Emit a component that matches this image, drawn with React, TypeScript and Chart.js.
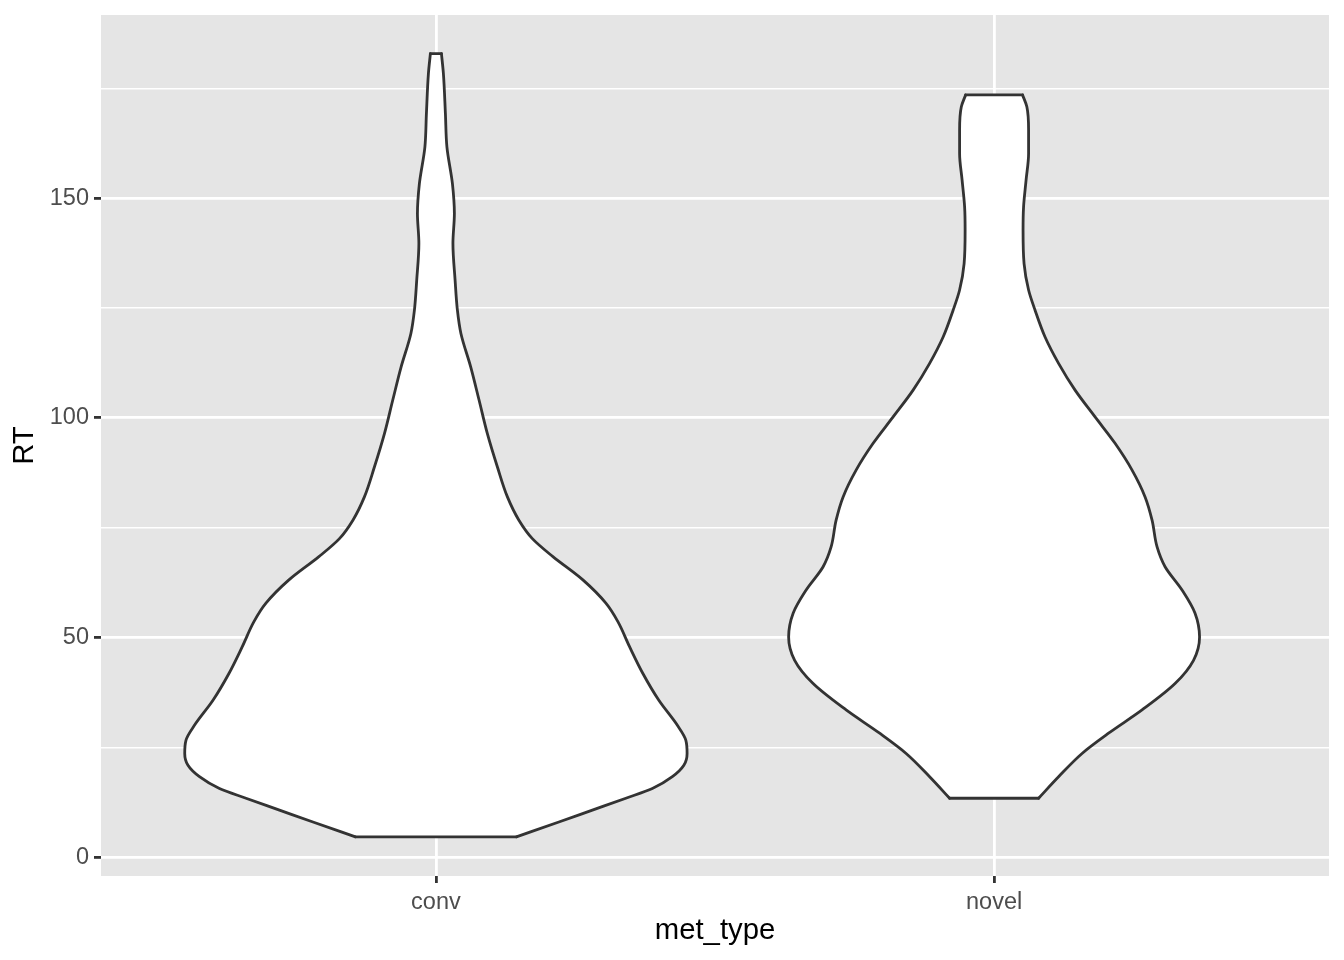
import React, { useEffect, useRef } from "react";
import { Chart, registerables } from "chart.js";

Chart.register(...registerables);

// Categories on the x axis
const categories = ["conv", "novel"];

// Violin outlines: RT value and half-width (in x-axis category units)
const convRT = [4.6, 8.0, 10.7, 13.4, 15.6, 18.3, 20.9, 23.6, 26.6, 30.0, 35.7, 41.8, 47.9, 53.6, 57.8, 63.1, 68.4, 72.5, 76.7, 82.0, 88.8, 96.4, 104.0, 111.6, 119.2, 124.5, 131.3, 139.7, 146.5, 153.3, 161.7, 169.3, 178.4, 182.9];
const convHalfWidth = [0.1442, 0.2203, 0.2803, 0.3403, 0.3878, 0.4236, 0.4442, 0.45, 0.4478, 0.4326, 0.3994, 0.3708, 0.3469, 0.326, 0.3045, 0.2633, 0.2096, 0.1728, 0.1487, 0.1281, 0.1102, 0.0922, 0.0774, 0.0623, 0.0448, 0.0385, 0.0344, 0.0305, 0.0331, 0.0296, 0.0197, 0.017, 0.0134, 0.0099];

const novelRT = [13.4, 18.3, 23.6, 28.2, 33.5, 39.5, 44.8, 50.1, 55.5, 60.8, 66.1, 70.6, 76.7, 82.0, 88.1, 94.2, 100.2, 106.3, 112.4, 118.4, 124.5, 129.1, 135.1, 142.7, 148.0, 154.1, 160.2, 165.5, 170.8, 173.5];
const novelHalfWidth = [0.0797, 0.1155, 0.1576, 0.2051, 0.2651, 0.3242, 0.3573, 0.3681, 0.36, 0.3367, 0.3063, 0.292, 0.283, 0.2705, 0.2472, 0.2167, 0.1809, 0.1451, 0.1155, 0.0913, 0.0734, 0.0618, 0.0537, 0.0519, 0.0528, 0.0573, 0.0618, 0.0618, 0.0587, 0.051];

// Axis ticks
const yMajorTicks = [0, 50, 100, 150];
const yMinorTicks = [25, 75, 125, 175];
const xTickPositions = [1, 2];

const FONT = "'Liberation Sans', Arial, Helvetica, sans-serif";
const OUTLINE = "#333333";

function violinDatasets(label: string, center: number, rt: number[], hw: number[]) {
  const n = rt.length;
  const base = {
    label,
    borderColor: OUTLINE,
    borderWidth: 2.8,
    borderCapStyle: "round",
    borderJoinStyle: "round",
    pointRadius: 0,
    pointHoverRadius: 0,
    cubicInterpolationMode: "monotone",
    backgroundColor: "#FFFFFF",
  };
  const right = rt.map((y, i) => ({ x: center + hw[i], y }));
  const left = rt.map((y, i) => ({ x: center - hw[i], y }));
  return [
    { ...base, data: right, fill: { value: center - 0.004 }, order: 2 },
    { ...base, data: left, fill: { value: center + 0.004 }, order: 2 },
    { ...base, data: [{ x: center - hw[0], y: rt[0] }, { x: center + hw[0], y: rt[0] }], fill: false, order: 1 },
    { ...base, data: [{ x: center - hw[n - 1], y: rt[n - 1] }, { x: center + hw[n - 1], y: rt[n - 1] }], fill: false, order: 1 },
  ];
}

const panelBg = {
  id: "panelBg",
  beforeDraw(chart: any) {
    const { ctx, chartArea: a } = chart;
    ctx.save();
    ctx.fillStyle = "#E5E5E5";
    ctx.fillRect(a.left, a.top, a.right - a.left, a.bottom - a.top);
    ctx.restore();
  },
};

export default function App() {
  const ref = useRef<HTMLCanvasElement | null>(null);

  useEffect(() => {
    if (!ref.current) return;
    const allY = [...yMajorTicks, ...yMinorTicks].sort((a, b) => a - b);
    const chart = new Chart(ref.current, {
      type: "line",
      data: {
        datasets: [
          ...violinDatasets(categories[0], 1, convRT, convHalfWidth),
          ...violinDatasets(categories[1], 2, novelRT, novelHalfWidth),
        ] as any,
      },
      options: {
        indexAxis: "y",
        animation: false,
        responsive: false,
        devicePixelRatio: 1,
        layout: { padding: { top: 15, right: 15, left: 0, bottom: 0 } },
        plugins: { legend: { display: false }, tooltip: { enabled: false }, filler: { propagate: false } },
        scales: {
          x: {
            type: "linear",
            min: 0.4,
            max: 2.6,
            afterBuildTicks: (scale: any) => {
              scale.ticks = xTickPositions.map((v) => ({ value: v }));
            },
            afterFit: (scale: any) => {
              scale.height = 84;
              scale.paddingLeft = 0;
              scale.paddingRight = 0;
            },
            ticks: {
              autoSkip: false,
              maxRotation: 0,
              padding: 5,
              color: "#4D4D4D",
              font: { family: FONT, size: 23.5 },
              callback: (v: any) => categories[Math.round(Number(v)) - 1] ?? "",
            },
            grid: {
              color: "#FFFFFF",
              lineWidth: 2.8,
              tickColor: "#333333",
              tickLength: 7,
              tickWidth: 2.8,
            },
            border: { display: false },
            title: {
              display: true,
              text: "met_type",
              color: "#000000",
              font: { family: FONT, size: 29.3 },
              padding: { top: 0, bottom: 12 },
            },
          },
          y: {
            type: "linear",
            min: -4.3,
            max: 191.7,
            afterBuildTicks: (scale: any) => {
              scale.ticks = allY.map((v) => ({ value: v }));
            },
            afterFit: (scale: any) => {
              scale.width = 101;
              scale.paddingTop = 0;
              scale.paddingBottom = 0;
            },
            ticks: {
              autoSkip: false,
              padding: 5,
              color: "#4D4D4D",
              font: { family: FONT, size: 23.5 },
              callback: (v: any) => (yMajorTicks.includes(Number(v)) ? String(v) : ""),
            },
            grid: {
              color: "#FFFFFF",
              lineWidth: (c: any) => (yMajorTicks.includes(c.tick?.value) ? 2.8 : 1.4),
              tickColor: (c: any) => (yMajorTicks.includes(c.tick?.value) ? "#333333" : "rgba(0,0,0,0)"),
              tickLength: 7,
              tickWidth: 2.8,
            },
            border: { display: false },
            title: {
              display: true,
              text: "RT",
              color: "#000000",
              font: { family: FONT, size: 29.3 },
              padding: { top: 7, bottom: 0 },
            },
          },
        },
      },
      plugins: [panelBg],
    });
    return () => chart.destroy();
  }, []);

  return (
    <div style={{ position: "absolute", left: 0, top: 0, width: 1344, height: 960, background: "#FFFFFF" }}>
      <canvas ref={ref} width={1344} height={960} style={{ display: "block" }} />
    </div>
  );
}
